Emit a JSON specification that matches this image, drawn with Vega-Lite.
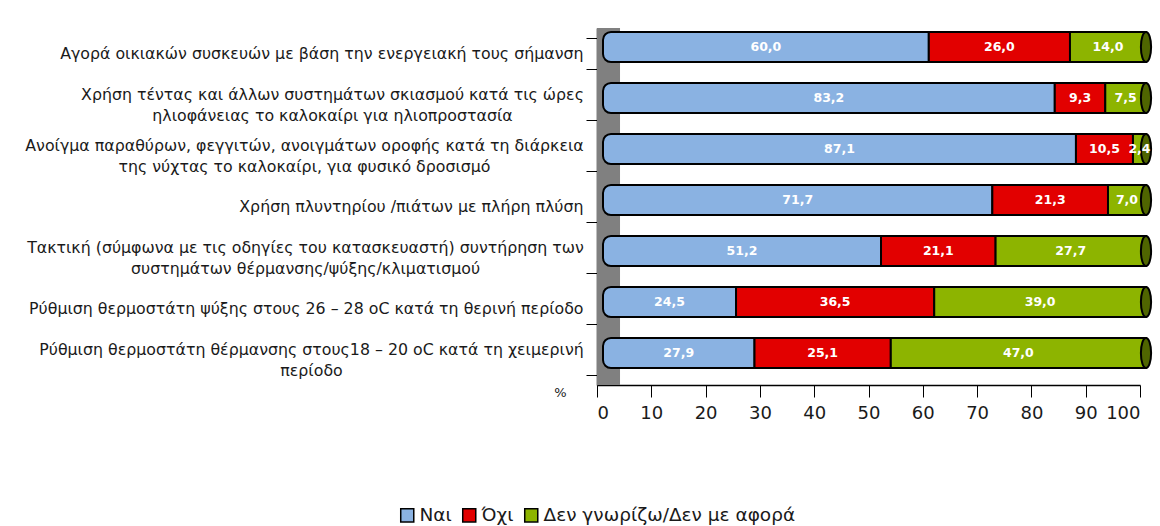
{
  "$schema": "https://vega.github.io/schema/vega-lite/v6.json",
  "width": 543,
  "height": 357,
  "padding": {"left": 0, "top": 20, "right": 20, "bottom": 0},
  "config": {
    "locale": {"number": {"decimal": ",", "thousands": ".", "grouping": [3], "currency": ["", " €"]}},
    "view": {"stroke": null},
    "font": "DejaVu Sans"
  },
  "datasets": {
    "wall": [{"a": 0, "b": 4.24}],
    "main": [
      {"cat": "Αγορά οικιακών συσκευών με βάση την ενεργειακή τους σήμανση", "resp": "Ναι", "k": 1, "v": 60.0},
      {"cat": "Αγορά οικιακών συσκευών με βάση την ενεργειακή τους σήμανση", "resp": "Όχι", "k": 2, "v": 26.0},
      {"cat": "Αγορά οικιακών συσκευών με βάση την ενεργειακή τους σήμανση", "resp": "Δεν γνωρίζω/Δεν με αφορά", "k": 3, "v": 14.0},
      {"cat": "Χρήση τέντας και άλλων συστημάτων σκιασμού κατά τις ώρες|ηλιοφάνειας το καλοκαίρι για ηλιοπροστασία", "resp": "Ναι", "k": 1, "v": 83.2},
      {"cat": "Χρήση τέντας και άλλων συστημάτων σκιασμού κατά τις ώρες|ηλιοφάνειας το καλοκαίρι για ηλιοπροστασία", "resp": "Όχι", "k": 2, "v": 9.3},
      {"cat": "Χρήση τέντας και άλλων συστημάτων σκιασμού κατά τις ώρες|ηλιοφάνειας το καλοκαίρι για ηλιοπροστασία", "resp": "Δεν γνωρίζω/Δεν με αφορά", "k": 3, "v": 7.5},
      {"cat": "Ανοίγμα παραθύρων, φεγγιτών, ανοιγμάτων οροφής κατά τη διάρκεια|της νύχτας το καλοκαίρι, για φυσικό δροσισμό", "resp": "Ναι", "k": 1, "v": 87.1},
      {"cat": "Ανοίγμα παραθύρων, φεγγιτών, ανοιγμάτων οροφής κατά τη διάρκεια|της νύχτας το καλοκαίρι, για φυσικό δροσισμό", "resp": "Όχι", "k": 2, "v": 10.5},
      {"cat": "Ανοίγμα παραθύρων, φεγγιτών, ανοιγμάτων οροφής κατά τη διάρκεια|της νύχτας το καλοκαίρι, για φυσικό δροσισμό", "resp": "Δεν γνωρίζω/Δεν με αφορά", "k": 3, "v": 2.4},
      {"cat": "Χρήση πλυντηρίου /πιάτων με πλήρη πλύση", "resp": "Ναι", "k": 1, "v": 71.7},
      {"cat": "Χρήση πλυντηρίου /πιάτων με πλήρη πλύση", "resp": "Όχι", "k": 2, "v": 21.3},
      {"cat": "Χρήση πλυντηρίου /πιάτων με πλήρη πλύση", "resp": "Δεν γνωρίζω/Δεν με αφορά", "k": 3, "v": 7.0},
      {"cat": "Τακτική (σύμφωνα με τις οδηγίες του κατασκευαστή) συντήρηση των|συστημάτων θέρμανσης/ψύξης/κλιματισμού", "resp": "Ναι", "k": 1, "v": 51.2},
      {"cat": "Τακτική (σύμφωνα με τις οδηγίες του κατασκευαστή) συντήρηση των|συστημάτων θέρμανσης/ψύξης/κλιματισμού", "resp": "Όχι", "k": 2, "v": 21.1},
      {"cat": "Τακτική (σύμφωνα με τις οδηγίες του κατασκευαστή) συντήρηση των|συστημάτων θέρμανσης/ψύξης/κλιματισμού", "resp": "Δεν γνωρίζω/Δεν με αφορά", "k": 3, "v": 27.7},
      {"cat": "Ρύθμιση θερμοστάτη ψύξης στους 26 – 28 oC κατά τη θερινή περίοδο", "resp": "Ναι", "k": 1, "v": 24.5},
      {"cat": "Ρύθμιση θερμοστάτη ψύξης στους 26 – 28 oC κατά τη θερινή περίοδο", "resp": "Όχι", "k": 2, "v": 36.5},
      {"cat": "Ρύθμιση θερμοστάτη ψύξης στους 26 – 28 oC κατά τη θερινή περίοδο", "resp": "Δεν γνωρίζω/Δεν με αφορά", "k": 3, "v": 39.0},
      {"cat": "Ρύθμιση θερμοστάτη θέρμανσης στους18 – 20 oC κατά τη χειμερινή|περίοδο", "resp": "Ναι", "k": 1, "v": 27.9},
      {"cat": "Ρύθμιση θερμοστάτη θέρμανσης στους18 – 20 oC κατά τη χειμερινή|περίοδο", "resp": "Όχι", "k": 2, "v": 25.1},
      {"cat": "Ρύθμιση θερμοστάτη θέρμανσης στους18 – 20 oC κατά τη χειμερινή|περίοδο", "resp": "Δεν γνωρίζω/Δεν με αφορά", "k": 3, "v": 47.0}
    ]
  },
  "data": {"name": "main"},
  "layer": [
    {
      "data": {"name": "wall"},
      "mark": {"type": "rect", "color": "#808080"},
      "encoding": {
        "x": {"field": "a", "type": "quantitative"},
        "x2": {"field": "b"}
      }
    },
    {
      "transform": [
        {"stack": "v", "groupby": ["cat"], "sort": [{"field": "k", "order": "ascending"}], "as": ["v0", "v1"]},
        {"filter": "datum.k == 1"}
      ],
      "mark": {"type": "bar", "stroke": "black", "strokeWidth": 2, "cornerRadiusTopLeft": 8, "cornerRadiusBottomLeft": 8, "xOffset": 6, "x2Offset": 6, "yOffset": -6.5},
      "encoding": {
        "y": {
          "field": "cat", "type": "nominal", "sort": null,
          "scale": {"paddingInner": 0.41, "paddingOuter": 0.205},
          "axis": {
            "title": null, "domainColor": "black", "domainWidth": 1.5,
            "tickColor": "black", "tickSize": 11, "tickBand": "extent",
            "labelFontSize": 15.8, "labelColor": "#1a1a1a",
            "labelLimit": 0, "minExtent": 597, "maxExtent": 597,
            "labelExpr": "isValid(datum.value) ? split(datum.value,'|') : ''", "labelLineHeight": 21,
            "labelAlign": {"condition": {"test": "isValid(datum.value) && indexof(datum.value,'|') >= 0", "value": "center"}, "value": "right"},
            "labelOffset": {"condition": {"test": "isValid(datum.value) && indexof(datum.value,'|') >= 0", "value": -10.5}, "value": 0},
            "labelPadding": {"condition": [
              {"test": "isValid(datum.value) && indexof(datum.value,'Χρήση τέντας') == 0", "value": 254},
              {"test": "isValid(datum.value) && indexof(datum.value,'Ανοίγμα') == 0", "value": 282},
              {"test": "isValid(datum.value) && indexof(datum.value,'Τακτική') == 0", "value": 281},
              {"test": "isValid(datum.value) && indexof(datum.value,'Ρύθμιση θερμοστάτη θέρμανσης') == 0", "value": 275}
            ], "value": 3}
          }
        },
        "x": {
          "field": "v0", "type": "quantitative",
          "scale": {"domain": [0, 100], "nice": false},
          "axis": {
            "title": "%", "grid": false, "values": [0, 10, 20, 30, 40, 50, 60, 70, 80, 90, 100],
            "domainColor": "black", "domainWidth": 1.5, "tickColor": "black", "tickSize": 12,
            "labelFontSize": 18, "labelPadding": 7, "labelColor": "#1a1a1a",
            "titleX": -37, "titleY": 7, "titleFontSize": 13, "titleFontWeight": "normal",
            "titleBaseline": "middle", "titleAlign": "center", "titleColor": "#1a1a1a"
          }
        },
        "x2": {"field": "v1"},
        "color": {
          "field": "resp", "type": "nominal",
          "scale": {"domain": ["Ναι", "Όχι", "Δεν γνωρίζω/Δεν με αφορά"], "range": ["#8AB2E2", "#E20000", "#8DB400"]},
          "legend": {
            "orient": "none", "legendX": -199, "legendY": 478, "direction": "horizontal",
            "title": null, "symbolType": "square", "symbolSize": 170,
            "symbolStrokeColor": "black", "symbolStrokeWidth": 1.5, "symbolOpacity": 1,
            "labelFontSize": 18.5, "labelColor": "#1a1a1a", "columnPadding": 7, "labelOffset": 3, "labelLimit": 0
          }
        }
      }
    },
    {
      "transform": [
        {"stack": "v", "groupby": ["cat"], "sort": [{"field": "k", "order": "ascending"}], "as": ["v0", "v1"]},
        {"filter": "datum.k > 1"}
      ],
      "mark": {"type": "bar", "stroke": "black", "strokeWidth": 2, "xOffset": 6, "x2Offset": 6, "yOffset": -6.5},
      "encoding": {
        "y": {"field": "cat", "type": "nominal", "sort": null},
        "x": {"field": "v0", "type": "quantitative"},
        "x2": {"field": "v1"},
        "color": {"field": "resp", "type": "nominal"}
      }
    },
    {
      "transform": [{"filter": "datum.k == 3"}],
      "mark": {"type": "point", "shape": "M0,-1A0.34,1 0 1,1 0,1A0.34,1 0 1,1 0,-1Z", "size": 900, "filled": true, "fill": "#4F6500", "stroke": "black", "strokeWidth": 2, "opacity": 1, "xOffset": 6, "yOffset": -6.5},
      "encoding": {
        "y": {"field": "cat", "type": "nominal", "sort": null},
        "x": {"datum": 100, "type": "quantitative"}
      }
    },
    {
      "mark": {"type": "text", "color": "white", "fontWeight": "bold", "fontSize": 12.5, "xOffset": 6, "yOffset": -6.5},
      "encoding": {
        "y": {"field": "cat", "type": "nominal", "sort": null},
        "x": {"field": "v", "type": "quantitative", "stack": "zero", "bandPosition": 0.5},
        "detail": {"field": "resp"},
        "order": {"field": "k"},
        "text": {"field": "v", "type": "quantitative", "format": ".1f"}
      }
    }
  ]
}
